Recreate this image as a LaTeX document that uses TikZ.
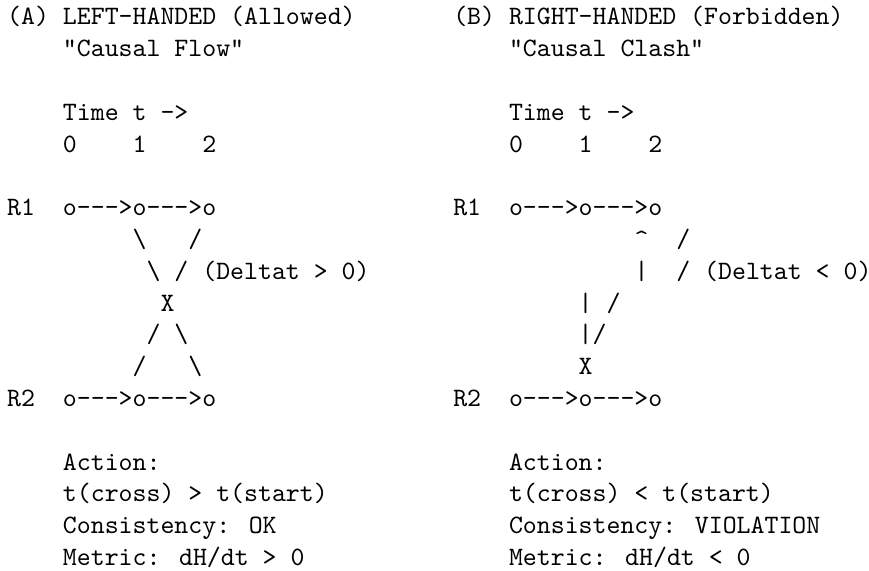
\documentclass[tikz,border=0pt]{standalone}
\begin{document}
\begin{tikzpicture}[x=0.5pt,y=-0.5pt,
  asc/.style={anchor=base west,inner sep=0pt,outer sep=0pt,
    font=\fontsize{10pt}{12pt}\selectfont\ttfamily}]
\useasboundingbox[fill=white] (0,0) rectangle (869,571);
\newcommand\tl[4]{\node[asc] (#1) at ({7.2+13.94*#2},{25+31.8*(#3-1)}) {\scalebox{1.3275}{#4}};}
\newcommand\chain{o-\kern0pt-\kern0pt->o-\kern0pt-\kern0pt->o}
% ---- headers
\tl{titleA}{0}{1}{(A) LEFT-HANDED (Allowed)}
\tl{titleB}{32}{1}{(B) RIGHT-HANDED (Forbidden)}
\tl{subA}{4}{2}{"Causal Flow"}
\tl{subB}{36}{2}{"Causal Clash"}
\tl{timeA}{4}{4}{Time t ->}
\tl{timeB}{36}{4}{Time t ->}
\tl{tA0}{4}{5}{0}
\tl{tA1}{9}{5}{1}
\tl{tA2}{14}{5}{2}
\tl{tB0}{36}{5}{0}
\tl{tB1}{41}{5}{1}
\tl{tB2}{46}{5}{2}
% ---- panel A
\tl{rA1}{0}{7}{R1}
\tl{cA1}{4}{7}{\chain}
\tl{a8l}{9}{8}{\textbackslash}
\tl{a8r}{13}{8}{/}
\tl{a9l}{10}{9}{\textbackslash}
\tl{a9r}{12}{9}{/}
\tl{dA}{14}{9}{(Deltat > 0)}
\tl{xA}{11}{10}{X}
\tl{a11l}{10}{11}{/}
\tl{a11r}{12}{11}{\textbackslash}
\tl{a12l}{9}{12}{/}
\tl{a12r}{13}{12}{\textbackslash}
\tl{rA2}{0}{13}{R2}
\tl{cA2}{4}{13}{\chain}
% ---- panel B
\tl{rB1}{32}{7}{R1}
\tl{cB1}{36}{7}{\chain}
\tl{b8l}{45}{8}{\textasciicircum}
\tl{b8r}{48}{8}{/}
\tl{b9l}{45}{9}{\textbar}
\tl{b9r}{48}{9}{/}
\tl{dB}{50}{9}{(Deltat < 0)}
\tl{b10l}{41}{10}{\textbar}
\tl{b10r}{43}{10}{/}
\tl{b11l}{41}{11}{\textbar}
\tl{b11r}{42}{11}{/}
\tl{xB}{41}{12}{X}
\tl{rB2}{32}{13}{R2}
\tl{cB2}{36}{13}{\chain}
% ---- footers
\tl{actA}{4}{15}{Action:}
\tl{actB}{36}{15}{Action:}
\tl{cmpA}{4}{16}{t(cross) > t(start)}
\tl{cmpB}{36}{16}{t(cross) < t(start)}
\tl{conA}{4}{17}{Consistency: OK}
\tl{conB}{36}{17}{Consistency: VIOLATION}
\tl{metA}{4}{18}{Metric: dH/dt > 0}
\tl{metB}{36}{18}{Metric: dH/dt < 0}
\end{tikzpicture}
\end{document}
